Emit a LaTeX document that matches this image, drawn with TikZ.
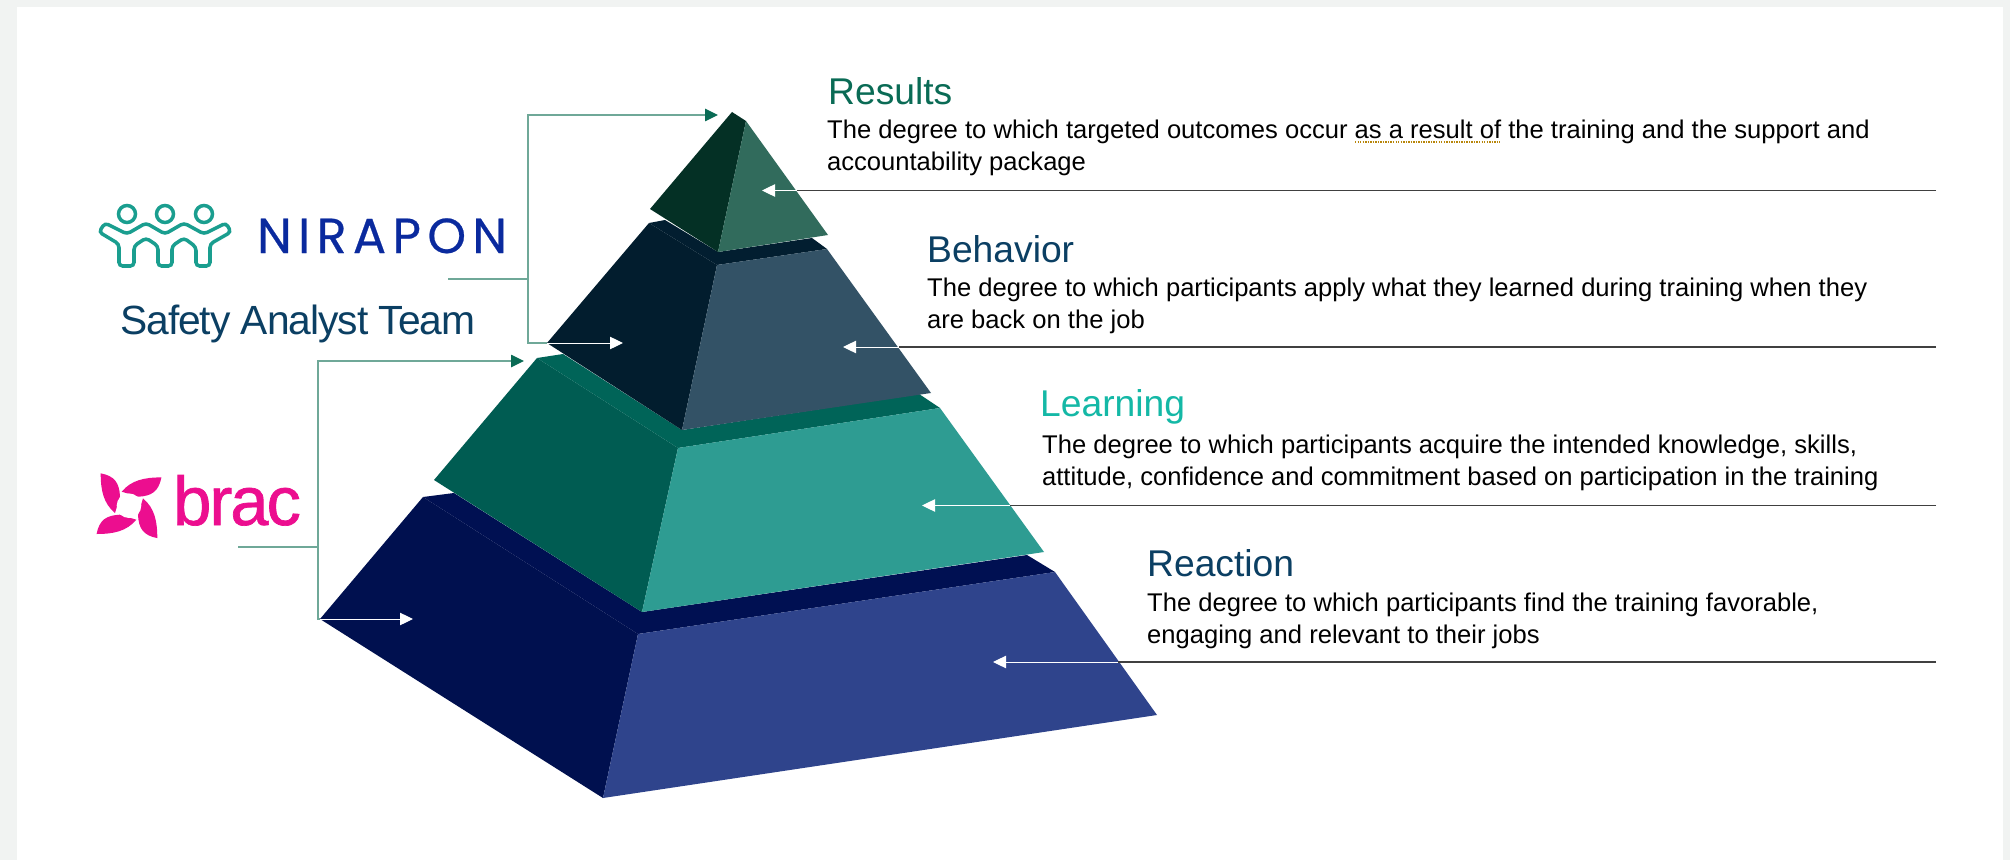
\documentclass[tikz,border=0pt]{standalone}
\usepackage{fontspec}
\setmainfont{Liberation Sans}
\newfontfamily\niraponfont[LetterSpace=13,FakeBold=.5]{Poppins}
\newfontfamily\safetyfont[LetterSpace=-2.5]{Liberation Sans}
\newfontfamily\bracfont[LetterSpace=-3,FakeBold=1]{Liberation Sans}
\usepackage{xcolor}
\usetikzlibrary{arrows.meta}
\usetikzlibrary{positioning}

\definecolor{navyside}{HTML}{00104F}
\definecolor{navystrip}{HTML}{001052}
\definecolor{navyface}{HTML}{2F448C}
\definecolor{tealside}{HTML}{005C52}
\definecolor{tealstrip}{HTML}{006458}
\definecolor{tealface}{HTML}{2E9C92}
\definecolor{slateside}{HTML}{021D2E}
\definecolor{slatestrip}{HTML}{021E30}
\definecolor{slateface}{HTML}{335266}
\definecolor{pineside}{HTML}{043025}
\definecolor{pineface}{HTML}{316B5C}
\definecolor{titlepine}{HTML}{0A6B55}
\definecolor{titleslate}{HTML}{0B3F63}
\definecolor{titleteal}{HTML}{14B8A6}
\definecolor{bracketline}{HTML}{6FA898}
\definecolor{leaderline}{HTML}{404040}
\definecolor{bracpink}{HTML}{EC0E8F}
\definecolor{nirablue}{HTML}{0A2A9E}
\definecolor{niragreen}{HTML}{1A9E8F}
\definecolor{pagegray}{HTML}{F1F3F2}
\definecolor{squiggle}{HTML}{B8860B}

\begin{document}
\begin{tikzpicture}[x=.05cm,y=-.05cm]
\tikzset{title/.style = {anchor=base west, inner sep=0pt, font=\fontsize{53}{60}\selectfont},
  blurb/.style = {anchor=base west, inner sep=0pt, align=left, font=\fontsize{36.4}{45.5}\selectfont},
  leader/.style = {draw=leaderline, line width=1.5pt},
  inlead/.style = {draw=white, line width=1.4pt, -{Triangle[length=.65cm,width=.62cm,fill=white]}},
  bracket/.style = {draw=bracketline, line width=1.8pt},
  outarrow/.style = {bracket, -{Triangle[length=.65cm,width=.62cm,color=titlepine]}}}

  \useasboundingbox (0,0) rectangle (2010,860);
  \fill[pagegray] (0,0) rectangle (2010,860);
  \fill[white] (17,7) rectangle (2003,860);

  % pyramid
  \fill[navyside] (423,497) -- (638,634) -- (603,798) -- (320,619) -- cycle;
  \fill[navystrip] (423,497) -- (454,493) -- (642,612) -- (1027,555) -- (1055,572) -- (638,634) -- cycle;
  \fill[navyface] (1055,572) -- (638,634) -- (603,798) -- (1157,715) -- cycle;

  \fill[tealside] (537,358) -- (678,448) -- (642,612) -- (434,480) -- cycle;
  \fill[tealstrip] (537,358) -- (563,354) -- (682,430) -- (919,394) -- (940,408) -- (678,448) -- cycle;
  \fill[tealface] (940,408) -- (678,448) -- (642,612) -- (1044,552) -- cycle;

  \fill[slateside] (649,223) -- (717,265) -- (682,430) -- (547,343) -- cycle;
  \fill[slatestrip] (649,223) -- (665,220) -- (718,252) -- (812,238) -- (827,249) -- (717,265) -- cycle;
  \fill[slateface] (827,249) -- (717,265) -- (682,430) -- (931,393) -- cycle;

  \fill[pineside] (732,112) -- (746,121) -- (718,252) -- (650,209) -- cycle;
  \fill[pineface] (746,121) -- (828,235) -- (718,252) -- cycle;

  % right hand texts
  \node[title, text=titlepine] (results) at (828,105) {Results};
  \node[blurb] (resultsblurb) at (827,170) {The degree to which targeted outcomes occur as a result of the training and the support and\\accountability package};
  \node[title, text=titleslate] (behavior) at (927,262) {Behavior};
  \node[blurb] (behaviorblurb) at (927,328) {The degree to which participants apply what they learned during training when they\\are back on the job};
  \node[title, text=titleteal] (learning) at (1040,416) {Learning};
  \node[blurb] (learningblurb) at (1042,485) {The degree to which participants acquire the intended knowledge, skills,\\attitude, confidence and commitment based on participation in the training};
  \node[title, text=titleslate] (reaction) at (1147,576) {Reaction};
  \node[blurb] (reactionblurb) at (1147,643) {The degree to which participants find the training favorable,\\engaging and relevant to their jobs};
  \draw[squiggle, line width=2.4pt, dash pattern=on 2pt off 1.6pt] (1355,142) -- (1500,142);

  % leaders from the right
  \coordinate (resultsend) at (1936,190.5);
  \coordinate (resultsedge) at (797,190.5);
  \coordinate (resultstip) at (762,190.5);
  \coordinate (behaviorend) at (1936,347);
  \coordinate (behavioredge) at (899,347);
  \coordinate (behaviortip) at (843,347);
  \coordinate (learningend) at (1936,505.5);
  \coordinate (learningedge) at (1010,505.5);
  \coordinate (learningtip) at (922,505.5);
  \coordinate (reactionend) at (1936,662);
  \coordinate (reactionedge) at (1118,662);
  \coordinate (reactiontip) at (993,662);
  \draw[leader] (resultsend) -- (resultsedge);
  \draw[inlead] (resultsedge) -- (resultstip);
  \draw[leader] (behaviorend) -- (behavioredge);
  \draw[inlead] (behavioredge) -- (behaviortip);
  \draw[leader] (learningend) -- (learningedge);
  \draw[inlead] (learningedge) -- (learningtip);
  \draw[leader] (reactionend) -- (reactionedge);
  \draw[inlead] (reactionedge) -- (reactiontip);

  % logos
  \node[anchor=base west, inner sep=0pt, text=nirablue, font=\niraponfont\fontsize{70}{70}\selectfont] (nirapon) at (257,253) {NIRAPON};
  \foreach \x in {127,165,204} {
    \draw[niragreen, line width=5pt] (\x,214) circle (8.5);
  }
  \draw[niragreen, line width=5pt, rounded corners=.18cm] (105,223) -- (127,234) -- (146,223) -- (165,234) -- (184,223)
    -- (204,234) -- (226,223) -- (231,232) -- (210,244) -- (210,266) -- (196,266) -- (196,247) -- (184,238) -- (172,246)
    -- (172,266) -- (158,266) -- (158,246) -- (146,238) -- (134,246) -- (134,266) -- (119,266) -- (119,244) -- (99,232) -- cycle;
  \node[anchor=base west, inner sep=0pt, text=titleslate, font=\safetyfont\fontsize{58}{60}\selectfont] (safety) at (120,334) {Safety Analyst Team};

  \foreach \a in {0,90,180,270} {
    \fill[bracpink, rotate around={\a:(129,505.7)}] (100.7,473.3) .. controls (115,476) and (119.3,483.3) .. (120,496.3)
      -- (115,513) .. controls (103.3,503.3) and (100.7,490) .. cycle;
  }
  \fill[white] (129,505.7) circle (12.3);
  \node[anchor=base west, inner sep=0pt, text=bracpink, font=\bracfont\fontsize{98}{98}\selectfont] (brac) at (173,525) {brac};

  % brackets on the left
  \coordinate (niraponstub) at (448,279);
  \coordinate (niraponjoin) at (528,279);
  \coordinate (pinetip) at (718,115);
  \coordinate (slatecorner) at (547,343);
  \coordinate (slatetip) at (623,343);
  \coordinate (bracstub) at (238,547);
  \coordinate (bracjoin) at (318,547);
  \coordinate (tealtip) at (524,361);
  \coordinate (navycorner) at (320,619);
  \coordinate (navytip) at (413,619);
  \draw[bracket] (niraponstub) -- (niraponjoin);
  \draw[outarrow] (niraponjoin) |- (pinetip);
  \draw[bracket] (niraponjoin) |- (slatecorner);
  \draw[inlead] (slatecorner) -- (slatetip);
  \draw[bracket] (bracstub) -- (bracjoin);
  \draw[outarrow] (bracjoin) |- (tealtip);
  \draw[bracket] (bracjoin) |- (navycorner);
  \draw[inlead] (navycorner) -- (navytip);
\end{tikzpicture}
\end{document}
